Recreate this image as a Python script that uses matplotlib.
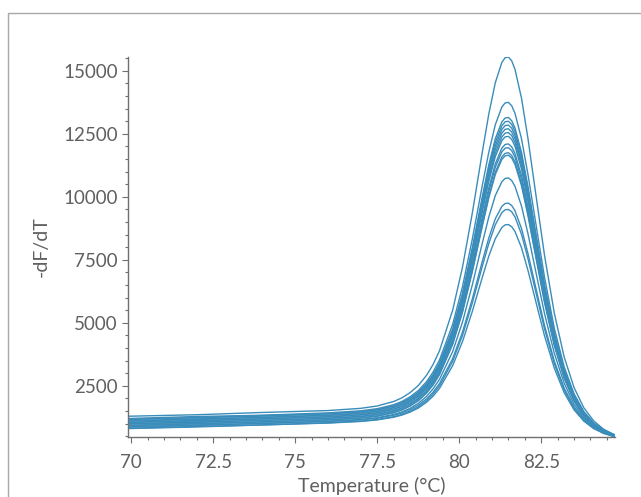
import matplotlib
matplotlib.use("Agg")
import matplotlib.pyplot as plt
from matplotlib.patches import Rectangle
from matplotlib.ticker import MultipleLocator

# Temperature grid (°C) shared by all wells
temperature = [69.9, 72, 74, 76, 77, 77.5, 78, 78.25, 78.5, 78.75, 79, 79.2, 79.4,
               79.8, 80.1, 80.4, 80.7, 80.9, 81.1, 81.3, 81.4, 81.5, 81.6, 81.7,
               81.9, 82.1, 82.3, 82.6, 82.9, 83.2, 83.5, 83.8, 84.1, 84.4, 84.75]

# -dF/dT melt-curve readings, one list per well
well_01 = [1290, 1350, 1440, 1516, 1604, 1698, 1875, 2018, 2226, 2506, 2908, 3337, 3894, 5499, 7207, 9360, 11747, 13275, 14528, 15334, 15523, 15550, 15399, 15064, 13912, 12280, 10428, 7684, 5377, 3641, 2432, 1623, 1106, 777, 542]
well_02 = [1200, 1280, 1330, 1424, 1506, 1590, 1747, 1875, 2059, 2306, 2658, 3037, 3527, 4937, 6438, 8327, 10423, 11763, 12861, 13565, 13727, 13750, 13615, 13317, 12299, 10859, 9228, 6810, 4779, 3250, 2185, 1474, 1017, 728, 522]
well_03 = [1170, 1230, 1320, 1393, 1473, 1554, 1705, 1827, 2003, 2238, 2576, 2937, 3405, 4751, 6182, 7985, 9983, 11261, 12306, 12976, 13130, 13150, 13019, 12733, 11759, 10382, 8822, 6511, 4570, 3109, 2091, 1411, 975, 698, 502]
well_04 = [1160, 1235, 1295, 1383, 1462, 1542, 1692, 1812, 1985, 2218, 2551, 2908, 3371, 4699, 6112, 7892, 9865, 11127, 12162, 12824, 12979, 12999, 12873, 12592, 11635, 10280, 8745, 6469, 4558, 3119, 2117, 1447, 1017, 745, 550]
well_05 = [1100, 1160, 1250, 1323, 1402, 1481, 1630, 1749, 1921, 2153, 2483, 2837, 3296, 4614, 6017, 7783, 9740, 10993, 12019, 12676, 12829, 12849, 12723, 12444, 11494, 10149, 8625, 6366, 4468, 3040, 2045, 1380, 954, 683, 490]
well_06 = [1110, 1185, 1240, 1333, 1411, 1490, 1637, 1754, 1924, 2152, 2478, 2827, 3280, 4579, 5964, 7705, 9635, 10870, 11881, 12529, 12680, 12700, 12575, 12299, 11362, 10035, 8531, 6302, 4431, 3021, 2040, 1384, 963, 696, 506]
well_07 = [1050, 1125, 1185, 1273, 1350, 1429, 1574, 1691, 1859, 2086, 2408, 2754, 3202, 4490, 5860, 7586, 9500, 10726, 11731, 12376, 12527, 12550, 12429, 12160, 11239, 9932, 8449, 6251, 4404, 3013, 2045, 1397, 983, 718, 531]
well_08 = [1040, 1100, 1190, 1263, 1340, 1418, 1561, 1677, 1843, 2067, 2386, 2728, 3171, 4444, 5799, 7504, 9395, 10605, 11596, 12232, 12379, 12400, 12279, 12010, 11094, 9797, 8328, 6148, 4318, 2940, 1981, 1338, 927, 666, 481]
well_09 = [990, 1065, 1125, 1212, 1288, 1365, 1505, 1618, 1781, 1999, 2312, 2646, 3078, 4322, 5644, 7310, 9156, 10340, 11309, 11932, 12078, 12100, 11984, 11723, 10834, 9572, 8142, 6020, 4238, 2896, 1961, 1337, 936, 682, 501]
well_10 = [980, 1045, 1130, 1202, 1278, 1354, 1493, 1604, 1765, 1981, 2290, 2619, 3046, 4275, 5581, 7226, 9049, 10216, 11173, 11787, 11930, 11950, 11834, 11576, 10693, 9444, 8028, 5927, 4164, 2836, 1911, 1293, 896, 645, 466]
well_11 = [930, 1010, 1060, 1152, 1227, 1302, 1439, 1549, 1707, 1920, 2223, 2548, 2969, 4177, 5463, 7083, 8879, 10029, 10974, 11582, 11726, 11749, 11639, 11389, 10530, 9309, 7924, 5870, 4142, 2841, 1936, 1330, 942, 695, 520]
well_12 = [920, 985, 1070, 1142, 1216, 1291, 1427, 1537, 1694, 1904, 2206, 2527, 2945, 4144, 5420, 7026, 8808, 9948, 10885, 11487, 11628, 11650, 11539, 11290, 10435, 9222, 7846, 5804, 4088, 2796, 1897, 1295, 909, 664, 490]
well_13 = [870, 945, 1000, 1091, 1162, 1232, 1359, 1459, 1604, 1799, 2076, 2373, 2757, 3859, 5031, 6507, 8142, 9190, 10049, 10600, 10730, 10749, 10646, 10416, 9629, 8512, 7246, 5368, 3788, 2601, 1773, 1220, 865, 639, 480]
well_14 = [860, 925, 1015, 1080, 1147, 1211, 1327, 1419, 1550, 1725, 1974, 2242, 2587, 3577, 4629, 5953, 7420, 8359, 9128, 9620, 9735, 9750, 9656, 9447, 8736, 7730, 6589, 4898, 3478, 2409, 1664, 1166, 847, 644, 500]
well_15 = [810, 885, 945, 1030, 1096, 1159, 1272, 1363, 1490, 1661, 1906, 2166, 2503, 3470, 4498, 5791, 7224, 8140, 8891, 9372, 9484, 9499, 9407, 9204, 8510, 7527, 6414, 4763, 3376, 2332, 1606, 1120, 808, 610, 470]
well_16 = [800, 865, 945, 1019, 1084, 1144, 1250, 1334, 1454, 1613, 1841, 2084, 2398, 3298, 4254, 5455, 6787, 7639, 8336, 8783, 8886, 8900, 8814, 8624, 7976, 7061, 6024, 4486, 3196, 2224, 1547, 1095, 804, 620, 489]

wells = [well_01, well_02, well_03, well_04, well_05, well_06, well_07, well_08,
         well_09, well_10, well_11, well_12, well_13, well_14, well_15, well_16]

x_ticks = [70, 72.5, 75, 77.5, 80, 82.5]
x_tick_labels = ["70", "72.5", "75", "77.5", "80", "82.5"]
y_ticks = [2500, 5000, 7500, 10000, 12500, 15000]

LINE = "#3a8cba"
TEXT = "#606060"
AXIS = "#707070"

plt.rcParams["font.family"] = ["Lato", "DejaVu Sans"]

fig = plt.figure(figsize=(6.41, 4.97), dpi=100)
fig.patch.set_facecolor("white")

# panel frame around the chart area (open to the right and bottom)
frame_left = 7.5 / 641
frame_top = 1 - 13 / 497
fig.add_artist(Rectangle((frame_left, -0.2), 1.2, frame_top + 0.2,
                         transform=fig.transFigure, fill=False,
                         edgecolor="#a8a8a8", linewidth=1.0))

ax = fig.add_axes([128 / 641, (497 - 437) / 497, 487 / 641, (437 - 57) / 497])

for w in wells:
    ax.plot(temperature, w, color=LINE, linewidth=1.0, solid_capstyle="butt")

all_vals = [v for w in wells for v in w]
ax.set_xlim(temperature[0], temperature[-1])
ax.set_ylim(min(all_vals), max(all_vals))

ax.set_xticks(x_ticks)
ax.set_xticklabels(x_tick_labels)
ax.set_yticks(y_ticks)
ax.xaxis.set_minor_locator(MultipleLocator(0.5))
ax.yaxis.set_minor_locator(MultipleLocator(500))

for side in ("top", "right"):
    ax.spines[side].set_visible(False)
for side in ("left", "bottom"):
    ax.spines[side].set_color(AXIS)
    ax.spines[side].set_linewidth(1.0)

ax.tick_params(which="major", direction="out", length=4, width=0.8,
               color=AXIS, labelcolor=TEXT, labelsize=13.5)
ax.tick_params(axis="y", which="major", pad=3.5)
ax.tick_params(axis="x", which="major", pad=8)
ax.tick_params(which="minor", direction="out", length=2.5, width=0.8, color=AXIS)

ax.set_xlabel("Temperature (°C)", fontsize=14, color=TEXT)
ax.xaxis.set_label_coords(0.5, -0.104)
ax.set_ylabel("-dF/dT", fontsize=14, color=TEXT)
ax.yaxis.set_label_coords(-0.16, 0.5)

fig.savefig("out.png", dpi=100, facecolor="white")
